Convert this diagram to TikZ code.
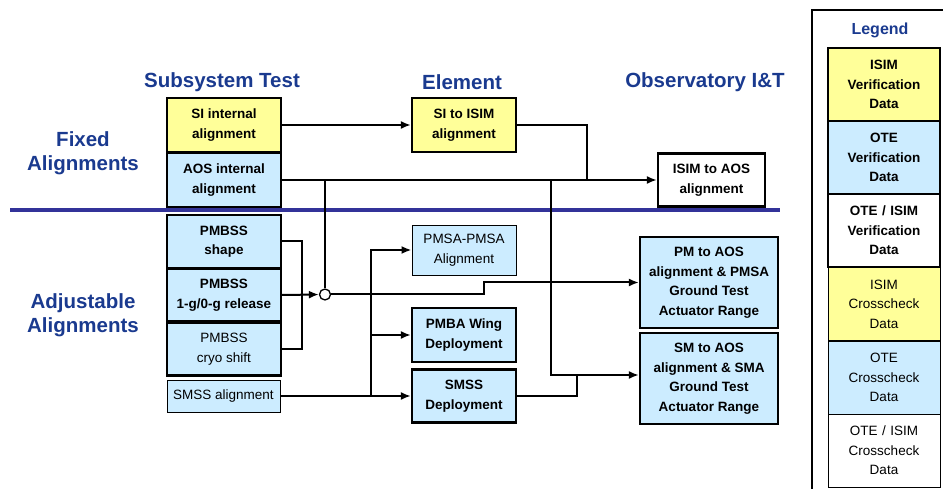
\documentclass[tikz,border=0pt]{standalone}
\usepackage{fontspec}
\setmainfont{Liberation Sans}
\usetikzlibrary{arrows.meta}
\definecolor{isimyellow}{HTML}{FFFF99}
\definecolor{oteblue}{HTML}{CCECFF}
\definecolor{headblue}{HTML}{1A3A8F}
\definecolor{divblue}{HTML}{333399}
\tikzset{
  vbox/.style={draw, line width=2.2pt, align=center, inner sep=0pt,
    font=\bfseries\fontsize{13.5}{19.5}\selectfont},
  cbox/.style={draw, line width=0.9pt, align=center, inner sep=0pt,
    font=\fontsize{13.5}{19.5}\selectfont},
  head/.style={text=headblue, align=center, font=\bfseries\fontsize{20.5}{24}\selectfont},
  link/.style={line width=2pt},
  arr/.style={link, -{Latex[length=10pt,width=8pt]}},
  lbox/.style={minimum width=112pt, minimum height=73pt, text width=108pt}
}
\begin{document}
\begin{tikzpicture}[x=1pt,y=-1pt]
\useasboundingbox (0,0) rectangle (943,489);
% column and row titles
\node[head] (hsub) at (222,82) {Subsystem Test};
\node[head] (hele) at (462,82) {Element};
\node[head] (hobs) at (705,82) {Observatory I\&T};
\node[head] (hfix) at (83,153) {Fixed\\Alignments};
\node[head] (hadj) at (83,315) {Adjustable\\Alignments};
\draw[divblue, line width=3.5pt] (10,210) -- (780,210);
% subsystem test
\node[vbox, fill=isimyellow, minimum width=114pt, minimum height=54pt] (siint) at (224,125) {SI internal\\alignment};
\node[vbox, fill=oteblue, minimum width=114pt, minimum height=54pt] (aosint) at (224,180) {AOS internal\\alignment};
\node[vbox, fill=oteblue, minimum width=114pt, minimum height=53pt] (pmshape) at (224,241.5) {PMBSS\\shape};
\node[vbox, fill=oteblue, minimum width=114pt, minimum height=53pt] (pmrel) at (224,295) {PMBSS\\1-g/0-g release};
\node[vbox, fill=oteblue, minimum width=114pt, minimum height=53pt,
  font=\fontsize{13.5}{19.5}\selectfont] (pmcryo) at (224,349) {PMBSS\\cryo shift};
\node[cbox, fill=oteblue, minimum width=113pt, minimum height=32pt] (smssal) at (223.5,396) {SMSS alignment};
% element
\node[vbox, fill=isimyellow, minimum width=104pt, minimum height=54pt] (sitoisim) at (464,125) {SI to ISIM\\alignment};
\node[cbox, fill=oteblue, minimum width=104pt, minimum height=50pt] (pmsa) at (464,250) {PMSA-PMSA\\Alignment};
\node[vbox, fill=oteblue, minimum width=104pt, minimum height=54pt] (pmba) at (464,335) {PMBA Wing\\Deployment};
\node[vbox, fill=oteblue, minimum width=104pt, minimum height=53pt] (smssdep) at (464,396) {SMSS\\Deployment};
% observatory
\node[vbox, fill=white, minimum width=107pt, minimum height=53pt] (isimaos) at (711.5,180) {ISIM to AOS\\alignment};
\node[vbox, fill=oteblue, minimum width=138pt, minimum height=91pt] (pmaos) at (709,282.5) {PM to AOS\\alignment \& PMSA\\Ground Test\\Actuator Range};
\node[vbox, fill=oteblue, minimum width=138pt, minimum height=91pt] (smaos) at (709,378.5) {SM to AOS\\alignment \& SMA\\Ground Test\\Actuator Range};
% junctions
\coordinate (ja) at (325,180);
\coordinate (jb) at (551,180);
\coordinate (jsi) at (587,180);
\coordinate (jv) at (371,396);
\node[circle, draw, line width=1.3pt, fill=white, minimum size=11pt, inner sep=0pt] (sum) at (325,294.5) {};
% connectors
\draw[arr] (siint.east) -- (sitoisim.west);
\draw[arr] (aosint.east) -- (isimaos.west);
\draw[link] (sitoisim.east) -| (jsi);
\draw[link] (ja) -- (sum.north);
\draw[link] (pmshape.east) -- ++(20,0) |- (pmcryo.east);
\draw[arr] (pmrel.east) -- (sum.west);
\draw[arr] (sum.east) -| ([xshift=-155pt]pmaos.west) -- (pmaos.west);
\draw[arr] (jb) |- ([yshift=3.5pt]smaos.west);
\draw[link] (smssdep.east) -| ([xshift=-62pt,yshift=3.5pt]smaos.west);
\draw[arr] (smssal.east) -- (smssdep.west);
\draw[arr] (jv) |- (pmsa.west);
\draw[arr] (jv) |- (pmba.west);
% legend
\draw[line width=1.3pt] (943,10) -- (812,10) -- (812,489);
\node[text=headblue, font=\bfseries\fontsize{16}{19}\selectfont] (leg) at (880,30) {Legend};
\node[vbox, lbox, fill=isimyellow] (lg1) at (884,84.5) {ISIM\\Verification\\Data};
\node[vbox, lbox, fill=oteblue] (lg2) at (884,157.5) {OTE\\Verification\\Data};
\node[vbox, lbox, fill=white] (lg3) at (884,230.5) {OTE / ISIM\\Verification\\Data};
\node[cbox, lbox, fill=isimyellow] (lg4) at (884,304) {ISIM\\Crosscheck\\Data};
\node[cbox, lbox, fill=oteblue] (lg5) at (884,377.5) {OTE\\Crosscheck\\Data};
\node[cbox, lbox, fill=white] (lg6) at (884,450.5) {OTE / ISIM\\Crosscheck\\Data};
\end{tikzpicture}
\end{document}
